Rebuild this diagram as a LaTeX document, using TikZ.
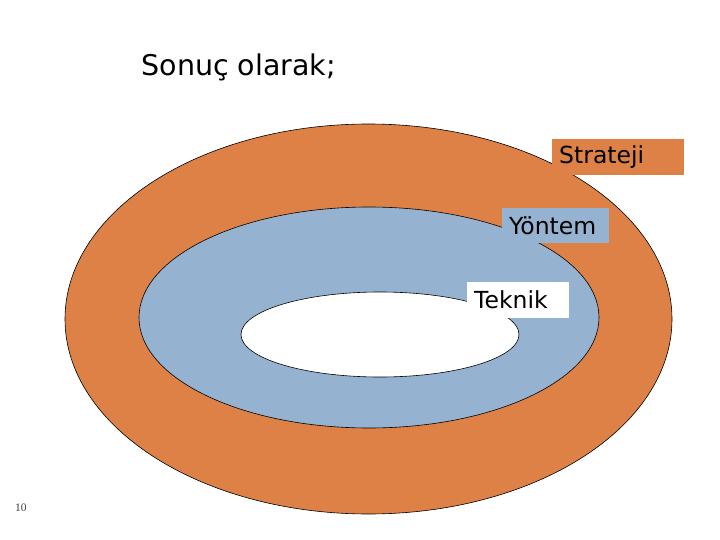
\documentclass[tikz,border=0pt]{standalone}
\usepackage{fontspec}
\setmainfont{DejaVu Sans}
\newfontfamily\pagenofont{Liberation Serif}
\usetikzlibrary{shapes.geometric,positioning}

\definecolor{stratorange}{RGB}{222,129,71}
\definecolor{methblue}{RGB}{149,179,208}

\begin{document}
\begin{tikzpicture}[
    x=1pt, y=-1pt,
    ring/.style={ellipse, draw=black, line width=0.6pt, inner sep=0pt},
    tag/.style={anchor=north west, inner xsep=7pt, inner ysep=0pt, minimum height=36pt, align=left, font=\fontsize{23.5}{26}\selectfont, text=black}
  ]
    \useasboundingbox (0,0) rectangle (720,540);

    % Baslik
    \node[anchor=base west, font=\fontsize{28.5}{32}\selectfont] (title) at (138,76) {Sonuç olarak;};

    % Halkalar
    \node[ring, fill=stratorange, minimum width=607pt, minimum height=390pt] (outer) at (368.5,319) {};
    \node[ring, fill=methblue, minimum width=460pt, minimum height=221pt] (middle) at (369,317.5) {};
    \node[ring, fill=white, minimum width=278pt, minimum height=85pt] (inner) at (380,334.5) {};

    % Etiketler
    \node[tag, fill=stratorange, text width=118pt] (strateji) at (552,139) {Strateji};
    \node[tag, fill=methblue, text width=93pt, minimum height=35pt] (yontem) at (502,208) {Yöntem};
    \node[tag, fill=white, text width=88pt] (teknik) at (467,282) {Teknik};

    % Sayfa no
    \node[font=\pagenofont\fontsize{11.5}{13}\selectfont, text=black!75] (pageno) at (21,508) {10};
  \end{tikzpicture}
\end{document}
